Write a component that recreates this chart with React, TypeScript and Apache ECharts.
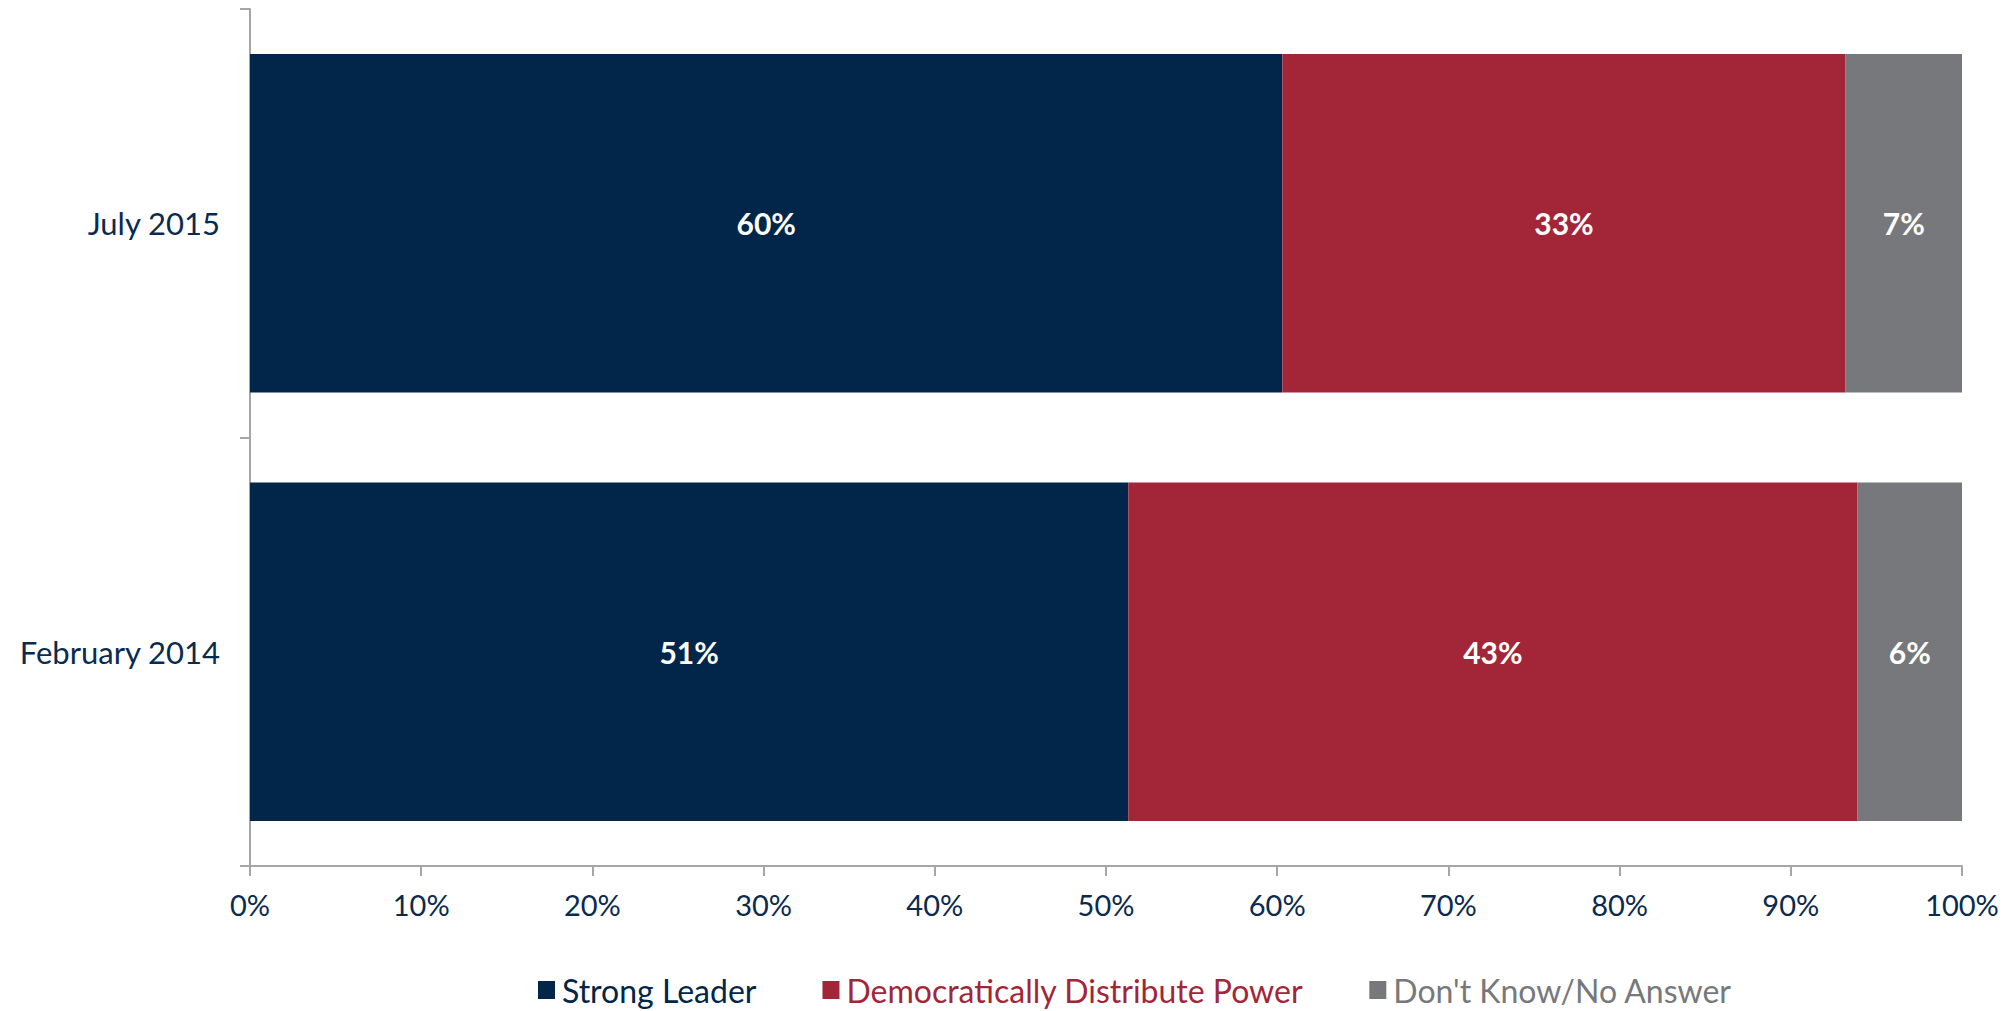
import React, { useEffect, useRef } from "react";
import * as echarts from "echarts";

const categories = ["July 2015", "February 2014"];
const seriesNames = ["Strong Leader", "Democratically Distribute Power", "Don't Know/No Answer"];
const strongLeader = [60.3, 51.3];
const democratic = [32.9, 42.6];
const dontKnow = [6.8, 6.1];
const xTicks = [0, 10, 20, 30, 40, 50, 60, 70, 80, 90, 100];

const colors = ["#012649", "#A32638", "#77787C"];
const FONT = "Lato, 'Noto Sans', sans-serif";
const TEXT = "#0B2A4F";

export default function App() {
  const ref = useRef<HTMLDivElement>(null);
  useEffect(() => {
    if (!ref.current) return;
    const chart = echarts.init(ref.current, null, { renderer: "svg" });
    const values = [strongLeader, democratic, dontKnow];
    chart.setOption({
      animation: false,
      textStyle: { fontFamily: FONT },
      grid: { left: 250, right: 51, top: 9, bottom: 145, containLabel: false },
      legend: {
        top: 969,
        left: 533,
        itemWidth: 17,
        itemHeight: 18,
        itemGap: 66,
        icon: "rect",
        textStyle: { fontSize: 32, fontFamily: FONT, padding: [0, 0, 0, 2] },
        data: seriesNames.map((n, i) => ({ name: n, textStyle: { color: colors[i] } })),
      },
      xAxis: {
        type: "value",
        min: xTicks[0],
        max: xTicks[xTicks.length - 1],
        interval: 10,
        splitLine: { show: false },
        axisLine: { show: true, lineStyle: { color: "#A6A6A6", width: 2 } },
        axisTick: { show: true, length: 10, lineStyle: { color: "#A6A6A6", width: 2 } },
        axisLabel: {
          formatter: (v: number) => `${v}%`,
          fontSize: 29,
          color: TEXT,
          margin: 24,
          fontFamily: FONT,
        },
      },
      yAxis: {
        type: "category",
        data: categories,
        inverse: true,
        axisLine: { show: true, lineStyle: { color: "#A6A6A6", width: 2 } },
        axisTick: { show: true, length: 10, lineStyle: { color: "#A6A6A6", width: 2 } },
        axisLabel: { fontSize: 31, color: TEXT, margin: 30, fontFamily: FONT },
      },
      series: seriesNames.map((name, i) => ({
        name,
        type: "bar",
        stack: "total",
        barCategoryGap: "21%",
        itemStyle: { color: colors[i] },
        label: {
          show: true,
          position: "inside",
          color: "#FFFFFF",
          fontSize: 30,
          fontWeight: "bold",
          fontFamily: FONT,
          formatter: (p: any) => `${Math.round(p.value)}%`,
        },
        data: values[i],
      })),
    });
    return () => chart.dispose();
  }, []);
  return (
    <div
      ref={ref}
      style={{ position: "fixed", left: 0, top: 0, width: 2013, height: 1011, background: "#FFFFFF" }}
    />
  );
}
